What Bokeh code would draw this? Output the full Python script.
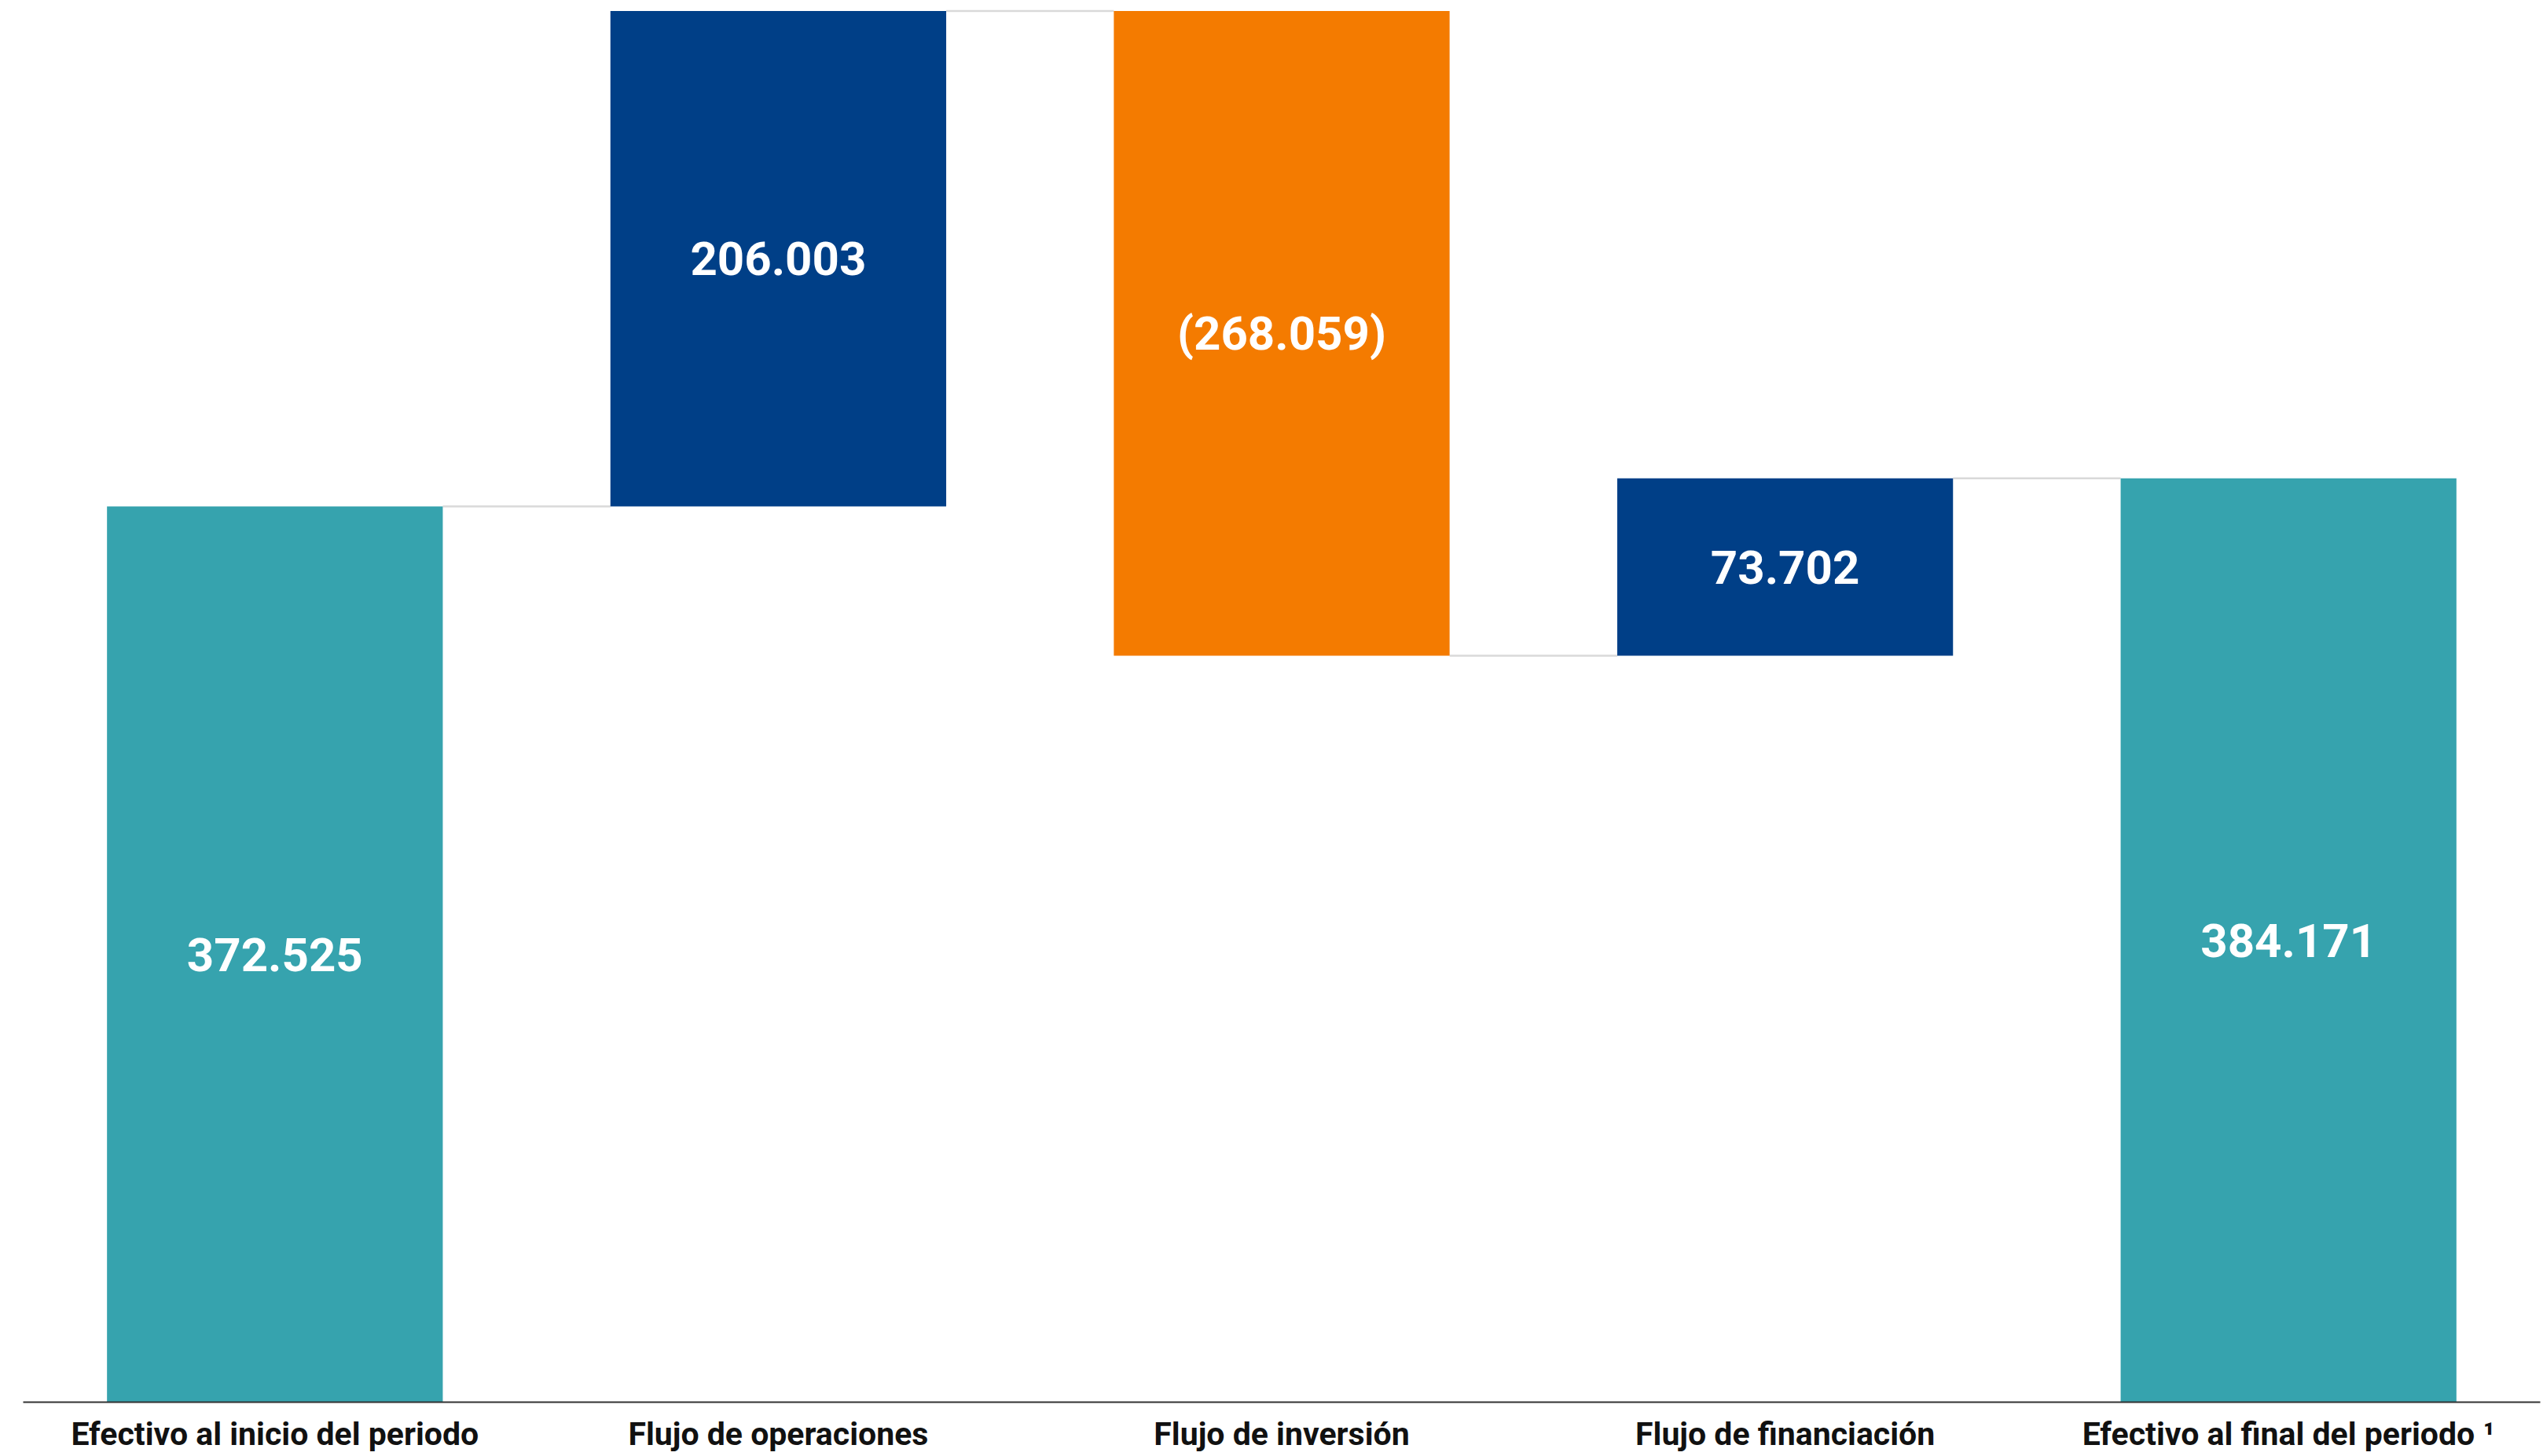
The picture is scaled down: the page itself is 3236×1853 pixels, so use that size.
from bokeh.plotting import figure
from bokeh.models import Range1d, FixedTicker, ColumnDataSource
from bokeh.core.properties import value
from bokeh.embed import file_html
from bokeh.resources import INLINE

categories = ["Efectivo al inicio del periodo", "Flujo de operaciones", "Flujo de inversión",
              "Flujo de financiación", "Efectivo al final del periodo \u00b9"]
amounts = [372525, 206003, -268059, 73702, 384171]
kinds = ["total", "delta", "delta", "delta", "total"]
labels = ["372.525", "206.003", "(268.059)", "73.702", "384.171"]

TEAL = "#36A3AE"
NAVY = "#003F87"
ORANGE = "#F47B00"

xs, bottoms, tops, colors, ends = [], [], [], [], []
running = 0
for i, (a, k) in enumerate(zip(amounts, kinds)):
    xs.append(i)
    if k == "total":
        bottoms.append(0)
        tops.append(a)
        running = a
        colors.append(TEAL)
    else:
        b = running
        running = running + a
        bottoms.append(min(b, running))
        tops.append(max(b, running))
        colors.append(NAVY if a >= 0 else ORANGE)
    ends.append(running)

src = ColumnDataSource(dict(x=xs, bottom=bottoms, top=tops, color=colors,
                            mid=[(b + t) / 2 for b, t in zip(bottoms, tops)], label=labels))

W = 0.667
p = figure(width=3236, height=1853, output_backend="svg", toolbar_location=None,
           x_range=Range1d(-0.5, 4.5), y_range=Range1d(0, 582970),
           min_border_left=29, min_border_right=4, min_border_top=0, min_border_bottom=69)
p.outline_line_color = None
p.xgrid.visible = False
p.ygrid.visible = False
p.yaxis.visible = False

# connectors
cx0 = [i + W / 2 for i in range(len(amounts) - 1)]
cx1 = [i + 1 - W / 2 for i in range(len(amounts) - 1)]
cy = ends[:-1]
p.segment(x0=cx0, y0=cy, x1=cx1, y1=cy, line_color="#d9d9d9", line_width=2.5)

p.vbar(x="x", bottom="bottom", top="top", width=W, color="color", line_color=None, source=src)

p.text(x="x", y="mid", text="label", source=src, text_color="white",
       text_font=value("Roboto"), text_font_style="bold", text_font_size="60px",
       text_align="center", text_baseline="middle")

ax = p.xaxis[0]
ax.ticker = FixedTicker(ticks=list(range(len(categories))))
ax.major_label_overrides = {i: c for i, c in enumerate(categories)}
ax.major_tick_line_color = None
ax.minor_tick_line_color = None
ax.axis_line_color = "#333333"
ax.axis_line_width = 2
ax.major_label_standoff = 10
ax.major_label_text_font = "Roboto"
ax.major_label_text_font_style = "bold"
ax.major_label_text_font_size = "41px"
ax.major_label_text_color = "#111111"

open("out.html", "w").write(file_html(p, INLINE))
